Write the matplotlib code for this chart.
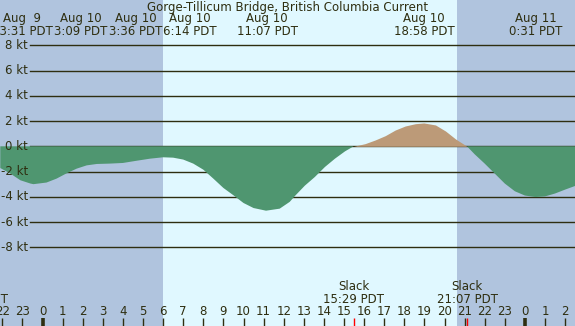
import matplotlib
matplotlib.use("Agg")
import matplotlib.pyplot as plt
import numpy as np

# ---- data (hours relative to Aug 10 00:00 PDT, knots) ----
times = [-2.1, -1.6, -1.1, -0.6, -0.45, 0.2, 0.7, 1.2, 1.7, 2.2, 2.7, 3.35,
         4.0, 4.7, 5.35, 6.0, 6.5, 7.0, 7.5, 8.0, 8.5, 9.0, 9.5, 10.0, 10.5,
         11.12, 11.8, 12.3, 12.55, 13.05, 13.55, 14.05, 14.55, 15.05, 15.48,
         16.05, 16.55, 17.05, 17.55, 18.05, 18.55, 18.97, 19.55, 20.05, 20.55,
         21.12, 21.5, 22.0, 22.5, 23.0, 23.5, 24.0, 24.52, 25.0, 25.5, 26.0,
         26.5]
speeds = [-1.72, -2.16, -2.69, -2.95, -3.0, -2.87, -2.56, -2.14, -1.77, -1.51,
          -1.40, -1.37, -1.32, -1.14, -0.98, -0.87, -0.90, -1.05, -1.37, -1.85,
          -2.56, -3.30, -3.88, -4.49, -4.89, -5.10, -4.94, -4.40, -3.95, -3.12,
          -2.43, -1.64, -0.98, -0.40, 0.0, 0.21, 0.50, 0.84, 1.29, 1.61, 1.79,
          1.85, 1.69, 1.21, 0.58, 0.0, -0.63, -1.37, -2.16, -2.95, -3.56, -3.90,
          -4.02, -3.97, -3.74, -3.43, -3.14]

grid_levels = [8, 6, 4, 2, 0, -2, -4, -6, -8]
hour_ticks = list(range(-2, 27))

event_labels = ["Aug  9\n23:31 PDT", "Aug 10\n3:09 PDT", "Aug 10\n3:36 PDT",
                "Aug 10\n6:14 PDT", "Aug 10\n11:07 PDT", "Aug 10\n18:58 PDT",
                "Aug 11\n0:31 PDT"]
slack_times = [-3.22, 15.48, 21.12]
slack_labels = ["Slack\n20:47 PDT", "Slack\n15:29 PDT", "Slack\n21:07 PDT"]

night_spans = [(-3.0, 6.0), (20.6, 30.0)]

# ---- layout constants ----
label_pos = [-1.02, 1.92, 4.65, 7.34, 11.17, 18.98, 24.55]  # display centers (h)

W, H = 575, 326
px_per_h = 20.1
x0px = 42.5          # pixel of Aug 10 00:00
px_per_kt = 12.625
y0px = 146.3         # pixel of 0 kt

xmin = -x0px / px_per_h
xmax = (W - x0px) / px_per_h
ymax = y0px / px_per_kt
ymin = -(H - y0px) / px_per_kt

def ky(py):
    return -(py - y0px) / px_per_kt

day_c = "#E0F8FF"
night_c = "#B0C4DE"
ebb_c = "#4F9670"
flood_c = "#BC9A78"
ink = "#2E2E10"

fig = plt.figure(figsize=(W / 100, H / 100), dpi=100)
ax = fig.add_axes([0, 0, 1, 1])
ax.set_xlim(xmin, xmax)
ax.set_ylim(ymin, ymax)
ax.axis("off")
ax.add_patch(plt.Rectangle((xmin, ymin), xmax - xmin, ymax - ymin,
                           color=day_c, zorder=0))
for a, b in night_spans:
    ax.axvspan(a, b, color=night_c, zorder=0.5, lw=0)

fs = 8.5
for lv in grid_levels:
    ax.axhline(lv, xmin=30 / W, xmax=1, color=ink, lw=1.0, zorder=1)
    ax.text((28 - x0px) / px_per_h, lv, f"{lv} kt", ha="right", va="center",
            fontsize=fs, color=ink, zorder=3)

t = np.array(times)
s = np.array(speeds)
ax.fill_between(t, s, 0, where=s <= 0, interpolate=True, color=ebb_c,
                lw=0, zorder=2)
ax.fill_between(t, s, 0, where=s >= 0, interpolate=True, color=flood_c,
                lw=0, zorder=2)

ax.text((W / 2) / px_per_h + xmin, ky(7), "Gorge-Tillicum Bridge, British Columbia Current",
        ha="center", va="center", fontsize=fs, color=ink, zorder=4)
for lp, lab in zip(label_pos, event_labels):
    ax.text(lp, ky(25), lab, ha="center", va="center", fontsize=fs,
            color=ink, zorder=4, linespacing=1.0)

for st, lab in zip(slack_times, slack_labels):
    ax.text(st, ky(293), lab, ha="center", va="center", fontsize=fs,
            color=ink, zorder=4, linespacing=1.0)
    ax.plot([st, st], [ky(318), ky(326)], color="#FF0000", lw=1.0, zorder=3,
            solid_capstyle="butt")

for h in hour_ticks:
    ax.text(h, ky(311.7), str(h % 24), ha="center", va="center", fontsize=fs,
            color=ink, zorder=4)
    ax.plot([h, h], [ky(318), ky(326.5)], color=ink,
            lw=2.6 if h % 24 == 0 else 1.0, zorder=3, solid_capstyle="butt")

fig.savefig("out.png", dpi=100)
